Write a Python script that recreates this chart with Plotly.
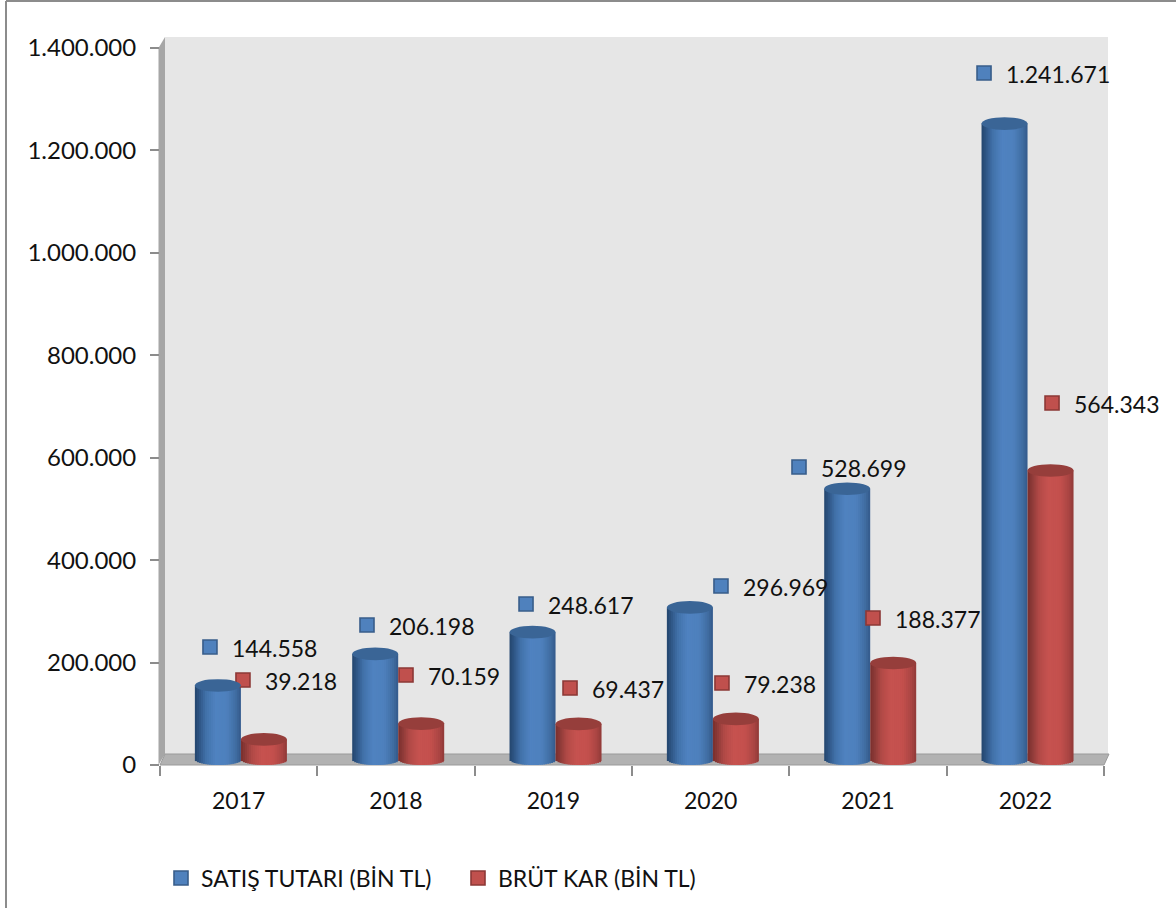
import numpy as np
import plotly.graph_objects as go

# ---------- data ----------
YEARS = ["2017", "2018", "2019", "2020", "2021", "2022"]
SALES = [144558, 206198, 248617, 296969, 528699, 1241671]
GROSS = [39218, 70159, 69437, 79238, 188377, 564343]
SALES_NAME = "SATIŞ TUTARI (BİN TL)"
GROSS_NAME = "BRÜT KAR (BİN TL)"
Y_TICKS = [0, 200000, 400000, 600000, 800000, 1000000, 1200000, 1400000]

# label anchor offsets from the top of each column, in pixels
SALES_LABEL_DX = [-28.7, -29, -27.3, 10.3, -69, -41.3]
SALES_LABEL_DY = [44, 34.4, 33.7, 26.9, 27.2, 56.1]
GROSS_LABEL_DX = [4.3, 10, 16.7, 11.3, 5, 26.7]
GROSS_LABEL_DY = [64.9, 54.1, 41.4, 41.4, 50.5, 73]

# ---------- geometry ----------
W, H = 1176, 908
L, R, T, B = 160, 1104, 48, 765
PW, PH = R - L, B - T
YMAX = 1400000
CAT_PX = PW / len(YEARS)
UNIT_X = 1 / CAT_PX            # x units per px
UNIT_Y = YMAX / PH             # value units per px
BAR_PX = 46
GROUP_SHIFT_PX = 2.2
RY_PX = 5.5
N_STRIPS = 23

FONT = "Lato"
FS = 23
TXT = "#111111"


def fmt(v):
    return f"{v:,}".replace(",", ".")


def hex2rgb(h):
    return np.array([int(h[i:i + 2], 16) for i in (1, 3, 5)], float)


def grad(stops, t):
    ts = [s[0] for s in stops]
    cols = np.array([hex2rgb(s[1]) for s in stops])
    c = [np.interp(t, ts, cols[:, k]) for k in range(3)]
    return "rgb(%d,%d,%d)" % tuple(int(round(v)) for v in c)


BLUE_STOPS = [(0, "#23456c"), (.1, "#2f5686"), (.25, "#4273ab"), (.45, "#4f82c0"),
              (.7, "#4e80bd"), (.9, "#3f6ca0"), (1, "#33598a")]
RED_STOPS = [(0, "#7a2f2d"), (.1, "#8d3a38"), (.25, "#b24a47"), (.45, "#c6524f"),
             (.7, "#c4504d"), (.9, "#a94543"), (1, "#8f3a38")]

x_pos = np.arange(len(YEARS), dtype=float)
fig = go.Figure()
shapes = []


def px_shape(path, fill, line=None, width=0, layer="below"):
    return dict(type="path", path=path, xref="paper", yref="paper", fillcolor=fill,
                line=dict(color=line or fill, width=width), layer=layer)


def px(x, y):
    return f"{(x - L) / PW:.5f} {(B - y) / PH:.5f}"


def poly(pts):
    return "M " + " L ".join(px(*p) for p in pts) + " Z"


# back wall, side wall, floor
shapes.append(px_shape(poly([(165, 37), (1108, 37), (1108, 754), (165, 754)]), "#e6e6e6"))
shapes.append(px_shape(poly([(158.5, 48), (165, 37), (165, 754), (158.5, 765)]), "#a6a6a6"))
shapes.append(px_shape(poly([(160, 765), (165, 754), (1109, 754), (1104, 765)]), "#b2b2b2", "#9a9a9a", 1))
# outer frame
shapes.append(dict(type="line", xref="paper", yref="paper", x0=(6 - L) / PW, x1=(6 - L) / PW,
                   y0=(B - 1) / PH, y1=(B - 908) / PH, line=dict(color="#8c8c8c", width=2), layer="below"))
shapes.append(dict(type="line", xref="paper", yref="paper", x0=(6 - L) / PW, x1=(1176 - L) / PW,
                   y0=(B - 1) / PH, y1=(B - 1) / PH, line=dict(color="#8c8c8c", width=2), layer="below"))


def cylinders(values, left_px, stops, cap_color):
    for i in range(N_STRIPS):
        t0 = i / N_STRIPS
        t = (i + 0.5) / N_STRIPS
        u = 2 * t - 1
        arc = RY_PX * np.sqrt(max(0, 1 - u * u))
        base = (RY_PX - arc) * UNIT_Y
        top_extra = RY_PX * UNIT_Y
        fig.add_trace(go.Bar(
            x=x_pos, y=[v + top_extra - base for v in values], base=[base] * len(values),
            offset=(left_px + t0 * BAR_PX) * UNIT_X,
            width=(BAR_PX / N_STRIPS + (1.5 if i < N_STRIPS - 1 else 0)) * UNIT_X,
            marker=dict(color=grad(stops, t), line=dict(width=0)),
            showlegend=False, hoverinfo="skip"))
    for xc, v in zip(x_pos, values):
        c = v + RY_PX * UNIT_Y
        x0 = xc + left_px * UNIT_X
        shapes.append(dict(type="circle", xref="x", yref="y", x0=x0, x1=x0 + BAR_PX * UNIT_X,
                           y0=c - RY_PX * 1.15 * UNIT_Y, y1=c + RY_PX * 1.15 * UNIT_Y,
                           fillcolor=cap_color, line=dict(width=0), layer="above"))


cylinders(SALES, GROUP_SHIFT_PX - BAR_PX, BLUE_STOPS, "#3a6596")
cylinders(GROSS, GROUP_SHIFT_PX, RED_STOPS, "#963e3b")


def labels(values, dx, dy, name, fill, edge):
    mx = [c + d * UNIT_X for c, d in zip(x_pos, dx)]
    my = [v + d * UNIT_Y for v, d in zip(values, dy)]
    fig.add_trace(go.Scatter(x=mx, y=my, mode="markers", name=name, cliponaxis=False,
                             marker=dict(symbol="square", size=14, color=fill,
                                         line=dict(color=edge, width=1.6)),
                             hoverinfo="skip"))
    fig.add_trace(go.Scatter(x=[m + 22 * UNIT_X for m in mx], y=[m - 4 * UNIT_Y for m in my],
                             mode="text", showlegend=False,
                             text=[fmt(v) for v in values], textposition="middle right",
                             textfont=dict(family=FONT, size=FS, color=TXT), cliponaxis=False,
                             hoverinfo="skip"))


labels(SALES, SALES_LABEL_DX, SALES_LABEL_DY, SALES_NAME, "#4f81bd", "#385d8a")
labels(GROSS, GROSS_LABEL_DX, GROSS_LABEL_DY, GROSS_NAME, "#c0504d", "#8c3836")

fig.update_layout(
    width=W, height=H, autosize=False,
    margin=dict(l=L, r=W - R, t=T, b=H - B, pad=0, autoexpand=False),
    paper_bgcolor="white", plot_bgcolor="rgba(0,0,0,0)",
    barmode="overlay", shapes=shapes,
    font=dict(family=FONT, size=FS, color=TXT),
    showlegend=True,
    legend=dict(orientation="h", x=(161 - L) / PW, y=(B - 878) / PH, xanchor="left", yanchor="middle",
                font=dict(family=FONT, size=23, color=TXT), itemwidth=30,
                entrywidth=252, entrywidthmode="pixels",
                bgcolor="rgba(0,0,0,0)", traceorder="normal"),
    xaxis=dict(range=[-0.5, 5.5], tickmode="array", tickvals=list(x_pos), ticktext=YEARS,
               ticks="", showgrid=False, zeroline=False, showline=False, fixedrange=True,
               ticklabelstandoff=20, tickfont=dict(family=FONT, size=FS, color=TXT),
               minor=dict(tickmode="array", tickvals=list(x_pos - 0.5) + [x_pos[-1] + 0.5],
                          ticks="outside", ticklen=10, tickwidth=2, tickcolor="#8c8c8c", showgrid=False)),
    yaxis=dict(range=[0, YMAX], tickmode="array", tickvals=Y_TICKS, ticktext=[fmt(v) for v in Y_TICKS],
               ticks="outside", ticklen=9, tickwidth=2, tickcolor="#8c8c8c", showgrid=False,
               zeroline=False, showline=False, fixedrange=True, ticklabelstandoff=9,
               tickfont=dict(family=FONT, size=24, color=TXT)),
)

fig.write_html("out.html", config=dict(displayModeBar=False),
               post_script="document.body.style.margin='0';document.body.style.overflow='hidden';")
